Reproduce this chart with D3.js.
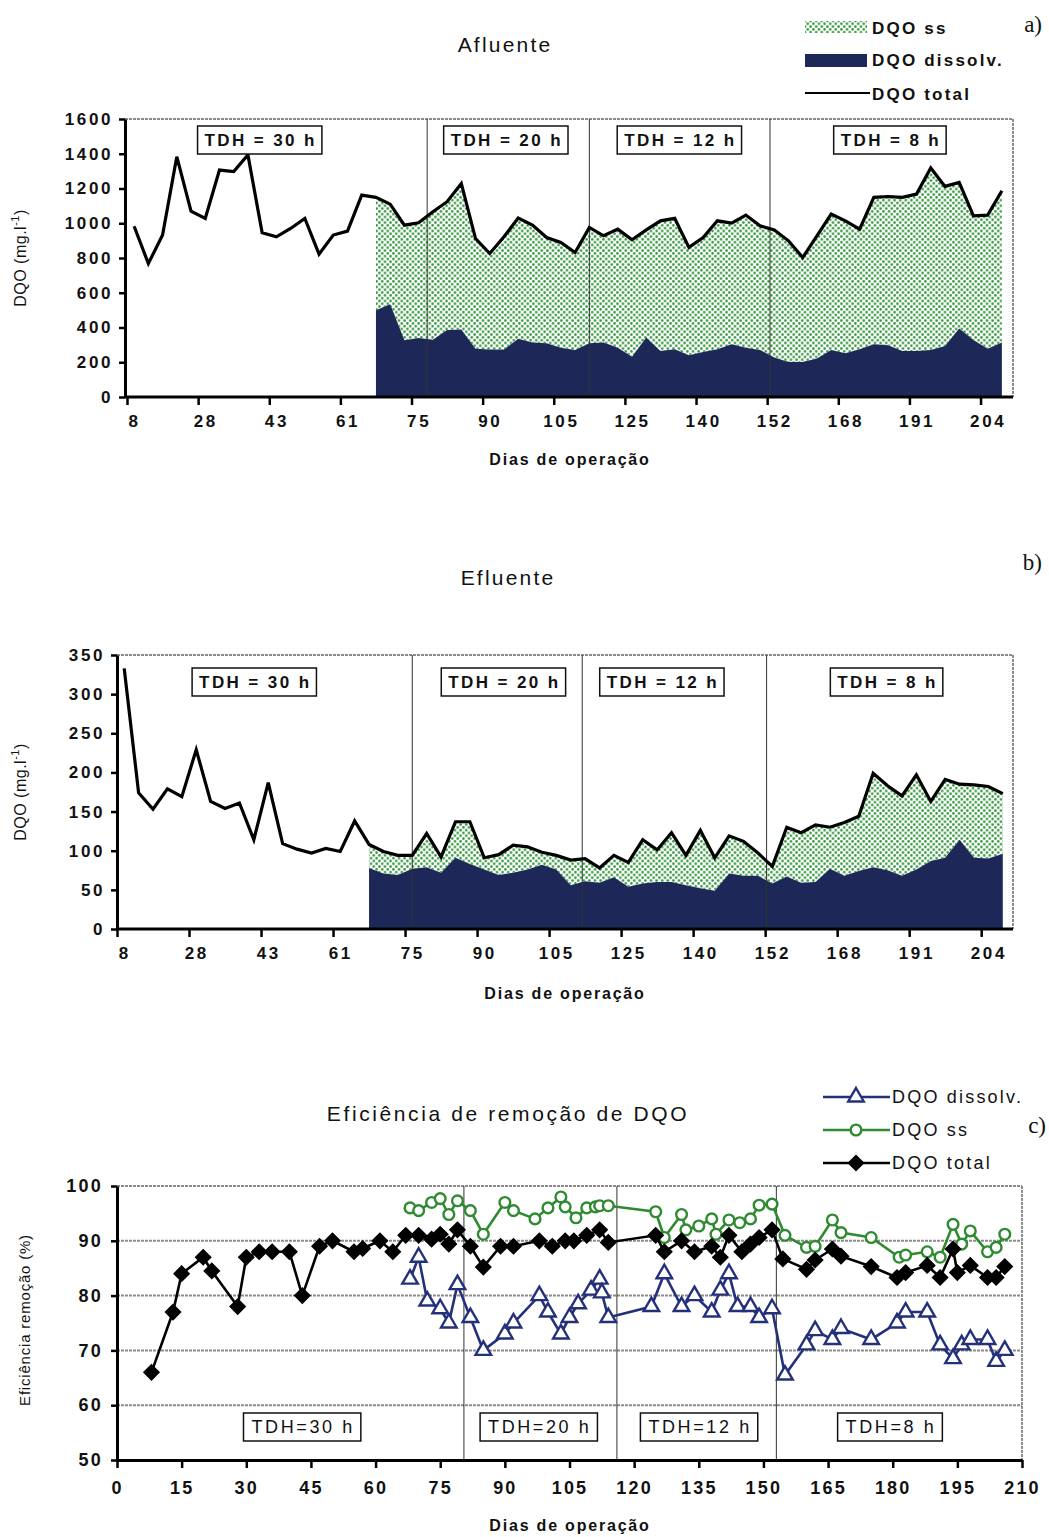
<!DOCTYPE html>
<html>
<head>
<meta charset="utf-8">
<script src="https://cdn.jsdelivr.net/npm/d3@7"></script>
<style>
  body { margin: 0; background: #fff; }
  svg { display: block; font-family: "Liberation Sans", Arial, sans-serif; }
</style>
</head>
<body>
<svg width="1049" height="1537"></svg>
<script>
// labels under every 5th sample (charts a and b)
var dayLabels = ["8", "28", "43", "61", "75", "90", "105", "125", "140", "152", "168", "191", "204"];
var tdhLabels = ["TDH = 30 h", "TDH = 20 h", "TDH = 12 h", "TDH = 8 h"];
var tdhLabelsC = ["TDH=30 h", "TDH=20 h", "TDH=12 h", "TDH=8 h"];

// a) Afluente, DQO (mg/l) per sample
var totalA = [983, 768, 932, 1383, 1070, 1028, 1306, 1297, 1393, 945,
  922, 970, 1028, 822, 932, 955, 1162, 1149, 1110, 989,
  1003, 1066, 1124, 1229, 912, 826, 922, 1030, 989, 918,
  889, 832, 976, 928, 966, 905, 962, 1014, 1028, 861,
  918, 1014, 1001, 1047, 985, 962, 899, 803, 928, 1053,
  1014, 966, 1149, 1154, 1149, 1168, 1318, 1212, 1235, 1043,
  1047, 1187];
var dissolvA = [null, null, null, null, null, null, null, null, null, null,
  null, null, null, null, null, null, null, 500, 534, 327,
  340, 330, 385, 388, 278, 273, 273, 335, 313, 309,
  284, 271, 309, 313, 284, 232, 342, 265, 275, 240,
  259, 275, 303, 284, 271, 227, 202, 202, 221, 271,
  252, 275, 303, 298, 265, 265, 271, 294, 394, 328,
  278, 313];

// b) Efluente
var totalB = [333, 174, 153, 179, 169, 229, 163, 154, 161, 114,
  187, 109, 102, 97, 103, 99, 138, 108, 99, 94,
  94, 122, 92, 137, 137, 91, 95, 107, 105, 98,
  94, 88, 90, 78, 94, 85, 114, 101, 123, 94,
  126, 91, 119, 112, 97, 80, 130, 123, 133, 130,
  136, 144, 199, 183, 170, 197, 163, 191, 185, 184,
  182, 173];
var dissolvB = [null, null, null, null, null, null, null, null, null, null,
  null, null, null, null, null, null, null, 78, 71, 69,
  77, 79, 72, 91, 83, 76, 69, 72, 76, 82,
  76, 56, 61, 59, 66, 54, 58, 60, 60, 56,
  52, 49, 71, 68, 68, 58, 67, 59, 60, 77,
  68, 74, 79, 75, 68, 76, 87, 91, 114, 91,
  90, 96];

// phase changes (sample index) for a and b, days for c
var phaseA = [20.6, 32, 44.7];
var phaseB = [20.0, 31.8, 44.6];
var phaseC = [80.5, 116, 153];

// c) removal efficiency (%), [day, value]
var effDissolv = [[68, 83], [70, 87], [72, 79], [75, 77.6], [77, 75], [79, 82], [82, 76], [85, 70],
  [90, 73], [92, 75], [98, 80], [100, 77], [103, 73], [105, 76], [107, 78.5], [110, 81],
  [112, 83], [112.5, 80.5], [114, 76], [124, 78], [127, 84], [131, 78], [134, 80], [138, 77],
  [140, 81], [142, 84], [144, 78], [147, 78], [149, 76], [152, 77.6], [155, 65.5], [160, 71],
  [162, 73.6], [166, 72], [168, 74], [175, 72], [181, 75], [183, 77], [188, 77], [191, 71],
  [194, 68.5], [196, 71], [198, 72], [202, 72], [204, 68], [206, 70]];
var effSS = [[68, 96], [70, 95.5], [73, 97], [75, 97.7], [77, 94.8], [79, 97.3], [82, 95.5], [85, 91.2],
  [90, 97], [92, 95.5], [97, 94], [100, 96], [103, 98], [104, 96.2], [106.5, 94.2], [109, 96],
  [111, 96.2], [112, 96.4], [114, 96.4], [125, 95.3], [127, 90.6], [131, 94.8], [132, 92], [135, 92.7],
  [138, 94], [139, 91.2], [142, 93.8], [144.5, 93.3], [147, 94], [149, 96.5], [152, 96.7], [155, 91],
  [160, 88.8], [162, 89], [166, 93.8], [168, 91.5], [175, 90.6], [181.5, 87], [183, 87.4], [188, 88],
  [191, 87], [194, 93], [196, 89.4], [198, 91.8], [202, 88], [204, 88.8], [206, 91.2]];
var effTotal = [[8, 66], [13, 77], [15, 84], [20, 87], [22, 84.5], [28, 78], [30, 87], [33, 88],
  [36, 88], [40, 88], [43, 80], [47, 89], [50, 90], [55, 88], [57, 88.6], [61, 90],
  [64, 88], [67, 91], [70, 91], [73, 90.3], [75, 91.2], [77, 89.4], [79, 92], [82, 89],
  [85, 85.2], [89, 89], [92, 89], [98, 90], [101, 89], [104, 90], [106, 90], [109, 91],
  [112, 92], [114, 89.7], [125, 91], [127, 88], [131, 90], [134, 88], [138, 89], [140, 87],
  [142, 91], [145, 88], [147, 89.4], [149, 90.6], [152, 92], [154.5, 86.7], [160, 84.8], [162, 86.5],
  [166, 88.5], [168, 87.2], [175, 85.3], [181, 83.3], [183, 84.2], [188, 85.5], [191, 83.3], [194, 88.5],
  [195, 84.2], [198, 85.5], [202, 83.3], [204, 83.3], [206, 85.3]];

var svg = d3.select("svg");
var navy = "#1d2858";
var green = "#35973f";

// dotted fill for DQO ss
var pat = svg.append("defs").append("pattern")
  .attr("id", "dots").attr("width", 5.6).attr("height", 5.6)
  .attr("patternUnits", "userSpaceOnUse");
pat.append("rect").attr("width", 5.6).attr("height", 5.6).attr("fill", "#fff");
pat.append("circle").attr("cx", 1.4).attr("cy", 1.4).attr("r", 1.3).attr("fill", green);
pat.append("circle").attr("cx", 4.2).attr("cy", 4.2).attr("r", 1.3).attr("fill", green);

function styleAxis(g) {
  g.select(".domain").attr("stroke", "#000").attr("stroke-width", 3);
  g.selectAll(".tick line").attr("stroke", "#000").attr("stroke-width", 2.5);
  g.selectAll("text").attr("fill", "#111").attr("font-size", 17)
    .attr("font-weight", "bold").attr("letter-spacing", 2.6);
}

function yLabel(cx, cy, size) {
  var t = svg.append("text")
    .attr("transform", "translate(" + cx + "," + cy + ") rotate(-90)")
    .attr("text-anchor", "middle").attr("font-size", size).attr("fill", "#111")
    .attr("letter-spacing", 0.5);
  return t;
}

function tdhBox(cx, cy, label, bold, padX) {
  var t = svg.append("text").attr("x", cx).attr("y", cy + 6)
    .attr("text-anchor", "middle").attr("font-size", bold ? 17 : 18)
    .attr("font-weight", bold ? "bold" : "normal")
    .attr("letter-spacing", bold ? 2.4 : 2.6).attr("fill", "#111").text(label);
  var bb = t.node().getBBox();
  svg.insert("rect", function() { return t.node(); })
    .attr("x", bb.x - padX).attr("y", cy - 14).attr("width", bb.width + 2 * padX - 2).attr("height", 28)
    .attr("fill", "#fff").attr("stroke", "#111").attr("stroke-width", 1.5);
}

// charts a and b share one layout
function drawDqo(cfg) {
  var rows = cfg.total.map(function(t, i) { return { i: i, t: t, d: cfg.dissolv[i] }; });
  var x = d3.scaleLinear().domain([-0.5, rows.length - 0.5]).range(cfg.xRange);
  var y = d3.scaleLinear().domain([0, cfg.yMax]).range([cfg.bottom, cfg.top]);

  // grey frame (top / right)
  svg.append("path")
    .attr("d", "M" + cfg.left + "," + cfg.top + "H" + cfg.right + "V" + cfg.bottom)
    .attr("fill", "none").attr("stroke", "#8c8c8c").attr("stroke-width", 2)
    .attr("stroke-dasharray", "3,1");

  var has = function(d) { return d.d != null; };
  svg.append("path").datum(rows)
    .attr("fill", "url(#dots)")
    .attr("d", d3.area().defined(has)
      .x(function(d) { return x(d.i); })
      .y0(function(d) { return y(d.d); })
      .y1(function(d) { return y(d.t); }));
  svg.append("path").datum(rows)
    .attr("fill", navy)
    .attr("d", d3.area().defined(has)
      .x(function(d) { return x(d.i); })
      .y0(y(0))
      .y1(function(d) { return y(d.d); }));

  svg.selectAll(null).data(cfg.phase).enter().append("line")
    .attr("x1", function(d) { return x(d); }).attr("x2", function(d) { return x(d); })
    .attr("y1", cfg.top).attr("y2", cfg.bottom)
    .attr("stroke", "#333").attr("stroke-width", 1);

  svg.append("path").datum(rows)
    .attr("fill", "none").attr("stroke", "#000").attr("stroke-width", 3.2)
    .attr("stroke-linejoin", "miter")
    .attr("d", d3.line()
      .x(function(d) { return x(d.i); })
      .y(function(d) { return y(d.t); }));

  var ya = svg.append("g").attr("transform", "translate(" + cfg.left + ",0)")
    .call(d3.axisLeft(y).tickValues(d3.range(0, cfg.yMax + 1, cfg.yStep))
      .tickFormat(d3.format("d")).tickSize(6).tickPadding(6).tickSizeOuter(0));
  styleAxis(ya);

  // tick marks sit between categories, labels centred on them
  var xt = svg.append("g").attr("transform", "translate(0," + cfg.bottom + ")")
    .call(d3.axisBottom(x).tickValues(d3.range(-0.5, rows.length - 1, 5)).tickFormat("").tickSize(8).tickSizeOuter(0));
  xt.select(".domain").attr("d", "M" + cfg.left + ",0H" + cfg.right);
  styleAxis(xt);
  var xl = svg.append("g").attr("transform", "translate(0," + cfg.bottom + ")")
    .call(d3.axisBottom(x).tickValues(d3.range(0, rows.length, 5))
      .tickFormat(function(d, i) { return dayLabels[i]; }).tickSize(0).tickPadding(18));
  xl.select(".domain").remove();
  styleAxis(xl);

  cfg.boxes.forEach(function(b, i) { tdhBox(x(b), cfg.boxY, tdhLabels[i], true, 7); });

  svg.append("text").attr("x", cfg.titleX).attr("y", cfg.titleY)
    .attr("text-anchor", "middle").attr("font-size", 21).attr("letter-spacing", 2.2)
    .attr("fill", "#111").text(cfg.title);
  svg.append("text").attr("x", cfg.xTitleX).attr("y", cfg.xTitleY)
    .attr("text-anchor", "middle").attr("font-size", 16).attr("font-weight", "bold")
    .attr("letter-spacing", 1.8).attr("fill", "#111").text("Dias de operação");
  var yl = yLabel(26, (cfg.top + cfg.bottom) / 2, 16);
  yl.append("tspan").text("DQO (mg.l");
  yl.append("tspan").attr("font-size", 11).attr("dy", -7).text("-1");
  yl.append("tspan").attr("dy", 7).text(")");
  svg.append("text").attr("x", 1042).attr("y", cfg.tagY).attr("text-anchor", "end")
    .attr("font-family", "Liberation Serif, Times New Roman, serif").attr("font-size", 23)
    .attr("fill", "#111").text(cfg.tag);
}

drawDqo({
  total: totalA, dissolv: dissolvA, phase: phaseA, yMax: 1600, yStep: 200,
  left: 125, right: 1013, top: 119, bottom: 397, xRange: [127, 1009],
  boxes: [8.9, 26.2, 38.4, 53.2], boxY: 140,
  title: "Afluente", titleX: 505, titleY: 52, xTitleX: 570, xTitleY: 465,
  tag: "a)", tagY: 32
});
drawDqo({
  total: totalB, dissolv: dissolvB, phase: phaseB, yMax: 350, yStep: 50,
  left: 117, right: 1013, top: 655, bottom: 929, xRange: [117, 1010],
  boxes: [9.1, 26.4, 37.4, 53.0], boxY: 682,
  title: "Efluente", titleX: 508, titleY: 585, xTitleX: 565, xTitleY: 999,
  tag: "b)", tagY: 570
});

// legend a
var legA = svg.append("g").attr("font-size", 17).attr("font-weight", "bold")
  .attr("letter-spacing", 2.2).attr("fill", "#111");
legA.append("rect").attr("x", 805).attr("y", 21).attr("width", 62).attr("height", 12).attr("fill", "url(#dots)");
legA.append("rect").attr("x", 805).attr("y", 54).attr("width", 62).attr("height", 13).attr("fill", navy);
legA.append("line").attr("x1", 805).attr("x2", 870).attr("y1", 93).attr("y2", 93)
  .attr("stroke", "#000").attr("stroke-width", 2);
legA.append("text").attr("x", 872).attr("y", 34).text("DQO ss");
legA.append("text").attr("x", 872).attr("y", 66).text("DQO dissolv.");
legA.append("text").attr("x", 872).attr("y", 100).text("DQO total");

// c) efficiency
var xc = d3.scaleLinear().domain([0, 210]).range([117, 1022]);
var yc = d3.scaleLinear().domain([50, 100]).range([1460, 1186]);

svg.append("g").selectAll("line").data(d3.range(60, 101, 10)).enter().append("line")
  .attr("x1", xc(0)).attr("x2", xc(210))
  .attr("y1", function(d) { return yc(d); }).attr("y2", function(d) { return yc(d); })
  .attr("stroke", "#8c8c8c").attr("stroke-width", 2).attr("stroke-dasharray", "3,1");
svg.append("line").attr("x1", xc(210)).attr("x2", xc(210)).attr("y1", yc(100)).attr("y2", yc(50))
  .attr("stroke", "#8c8c8c").attr("stroke-width", 2).attr("stroke-dasharray", "3,1");

svg.selectAll(null).data(phaseC).enter().append("line")
  .attr("x1", function(d) { return xc(d); }).attr("x2", function(d) { return xc(d); })
  .attr("y1", yc(100)).attr("y2", yc(50))
  .attr("stroke", "#333").attr("stroke-width", 1);

// box centres in days
[43.2, 98.1, 135.3, 179.6].forEach(function(d, i) {
  tdhBox(xc(d), 1427, tdhLabelsC[i], false, 8);
});

var diamond = d3.symbol().type(d3.symbolSquare).size(95);
var series = [
  { data: effDissolv, color: "#24317a", sym: d3.symbol().type(d3.symbolTriangle).size(105), rot: 0, fill: "#fff" },
  { data: effSS, color: "#2f8a32", sym: d3.symbol().type(d3.symbolCircle).size(90), rot: 0, fill: "#fff" },
  { data: effTotal, color: "#000", sym: diamond, rot: 45, fill: "#000" }
];
var lineC = d3.line()
  .x(function(d) { return xc(d[0]); })
  .y(function(d) { return yc(d[1]); });

series.forEach(function(s) {
  svg.append("path").datum(s.data)
    .attr("fill", "none").attr("stroke", s.color).attr("stroke-width", 2.6)
    .attr("d", lineC);
  svg.append("g").selectAll("path").data(s.data).enter().append("path")
    .attr("transform", function(d) {
      return "translate(" + xc(d[0]) + "," + yc(d[1]) + ") rotate(" + s.rot + ")";
    })
    .attr("d", s.sym)
    .attr("fill", s.fill).attr("stroke", s.color).attr("stroke-width", 2.4);
});

var ayc = svg.append("g").attr("transform", "translate(" + xc(0) + ",0)")
  .call(d3.axisLeft(yc).tickValues(d3.range(50, 101, 10)).tickSize(6).tickPadding(8).tickSizeOuter(0));
styleAxis(ayc);
var axc = svg.append("g").attr("transform", "translate(0," + yc(50) + ")")
  .call(d3.axisBottom(xc).tickValues(d3.range(0, 211, 15)).tickSize(8).tickPadding(13).tickSizeOuter(0));
styleAxis(axc);
axc.selectAll("text").attr("font-size", 18).attr("letter-spacing", 2.2);
ayc.selectAll("text").attr("font-size", 18).attr("letter-spacing", 2.2);

svg.append("text").attr("x", 508).attr("y", 1121)
  .attr("text-anchor", "middle").attr("font-size", 21).attr("letter-spacing", 2.6)
  .attr("fill", "#111").text("Eficiência de remoção de DQO");
svg.append("text").attr("x", 570).attr("y", 1531)
  .attr("text-anchor", "middle").attr("font-size", 16).attr("font-weight", "bold")
  .attr("letter-spacing", 1.8).attr("fill", "#111").text("Dias de operação");
yLabel(30, 1320, 15).attr("letter-spacing", 0.8).text("Eficiência remoção (%)");
svg.append("text").attr("x", 1046).attr("y", 1133).attr("text-anchor", "end")
  .attr("font-family", "Liberation Serif, Times New Roman, serif").attr("font-size", 23)
  .attr("fill", "#111").text("c)");

// legend c
var legC = svg.append("g");
var legNames = ["DQO dissolv.", "DQO ss", "DQO total"];
series.forEach(function(s, i) {
  var ly = 1097 + i * 33;
  legC.append("line").attr("x1", 823).attr("x2", 890).attr("y1", ly).attr("y2", ly)
    .attr("stroke", s.color).attr("stroke-width", 2.6);
  legC.append("path").attr("transform", "translate(856," + ly + ") rotate(" + s.rot + ")")
    .attr("d", s.sym)
    .attr("fill", s.fill).attr("stroke", s.color).attr("stroke-width", 2.4);
  legC.append("text").attr("x", 892).attr("y", ly + 6).attr("font-size", 18)
    .attr("letter-spacing", 2.2).attr("fill", "#111").text(legNames[i]);
});
</script>
</body>
</html>
